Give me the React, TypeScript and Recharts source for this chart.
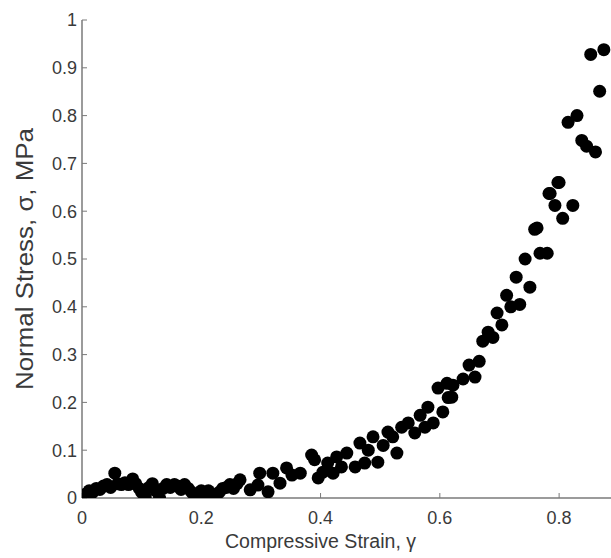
import React from 'react';
import { ScatterChart, Scatter, XAxis, YAxis } from 'recharts';

const strain: number[] = [
  0.0, 0.006, 0.012, 0.018, 0.024, 0.03, 0.036, 0.042, 0.048, 0.055, 0.06, 0.066, 0.072, 0.078, 0.085, 0.09, 0.096, 0.1, 0.106, 0.112,
  0.118, 0.124, 0.13, 0.136, 0.142, 0.148, 0.155, 0.16, 0.166, 0.172, 0.178, 0.184, 0.19, 0.196, 0.2, 0.206, 0.212, 0.218, 0.224, 0.23,
  0.236, 0.242, 0.248, 0.254, 0.26, 0.265, 0.282, 0.295, 0.298, 0.312, 0.32, 0.332, 0.343, 0.352, 0.366, 0.385, 0.39, 0.396, 0.404, 0.412,
  0.421, 0.427, 0.435, 0.444, 0.458, 0.466, 0.474, 0.48, 0.488, 0.496, 0.505, 0.513, 0.521, 0.528, 0.536, 0.547, 0.558, 0.567, 0.575, 0.58,
  0.589, 0.597, 0.605, 0.612, 0.614, 0.62, 0.622, 0.639, 0.649, 0.659, 0.666, 0.672, 0.681, 0.689, 0.696, 0.704, 0.712, 0.719, 0.728, 0.734,
  0.743, 0.751, 0.759, 0.763, 0.768, 0.78, 0.783, 0.785, 0.793, 0.798, 0.8, 0.806, 0.815, 0.823, 0.83, 0.838, 0.846, 0.853, 0.861, 0.868,
  0.875,
];

const stress: number[] = [
  0.0, 0.008, 0.015, 0.012, 0.02, 0.018, 0.025, 0.028, 0.022, 0.052, 0.03, 0.028, 0.032, 0.028, 0.04, 0.03, 0.02, 0.012, 0.002, 0.022,
  0.03, 0.015, 0.0, 0.02, 0.028, 0.022, 0.028, 0.025, 0.018, 0.028, 0.02, 0.012, 0.0, 0.01, 0.015, 0.012, 0.015, 0.008, 0.0, 0.012,
  0.02, 0.022, 0.028, 0.02, 0.03, 0.038, 0.017, 0.027, 0.052, 0.013, 0.052, 0.031, 0.063, 0.048, 0.052, 0.09, 0.08, 0.042, 0.054, 0.073,
  0.052, 0.086, 0.065, 0.094, 0.065, 0.115, 0.073, 0.1, 0.128, 0.075, 0.11, 0.138, 0.128, 0.094, 0.148, 0.157, 0.136, 0.173, 0.148, 0.19,
  0.157, 0.23, 0.18, 0.24, 0.21, 0.211, 0.236, 0.249, 0.278, 0.253, 0.286, 0.328, 0.347, 0.336, 0.387, 0.362, 0.424, 0.4, 0.462, 0.405,
  0.5, 0.441, 0.562, 0.565, 0.512, 0.512, 0.637, 0.637, 0.612, 0.66, 0.66, 0.585, 0.786, 0.612, 0.8, 0.748, 0.736, 0.928, 0.724, 0.851,
  0.938,
];

const xTicks: number[] = [0, 0.2, 0.4, 0.6, 0.8];
const yTicks: number[] = [0, 0.1, 0.2, 0.3, 0.4, 0.5, 0.6, 0.7, 0.8, 0.9, 1];

const data = strain.map((x, i) => ({ x, y: stress[i] }));

const FONT = '"Liberation Sans", Arial, Helvetica, sans-serif';
const AXIS = '#7a7a7a';
const TEXT = '#3a3a3a';

const fmt = (v: number) => (v === 0 ? '0' : v === 1 ? '1' : String(v));

const Dot = (props: any) => <circle cx={props.cx} cy={props.cy} r={6.5} fill="#000" />;

const YLabel = (props: any) => {
  const vb = props.viewBox || {};
  const cx = vb.x + 25;
  const cy = vb.y + vb.height / 2;
  return (
    <text
      x={cx}
      y={cy}
      transform={`rotate(-90, ${cx}, ${cy})`}
      textAnchor="middle"
      dominantBaseline="central"
      fontFamily={FONT}
      fontSize={23}
      fill={TEXT}
      textLength={262}
      lengthAdjust="spacingAndGlyphs"
    >
      Normal Stress, σ, MPa
    </text>
  );
};

const XLabel = (props: any) => {
  const vb = props.viewBox || {};
  const cx = vb.x + vb.width / 2 - 26;
  return (
    <text
      x={cx}
      y={vb.y + 50}
      textAnchor="middle"
      fontFamily={FONT}
      fontSize={20}
      fill={TEXT}
      textLength={191}
      lengthAdjust="spacingAndGlyphs"
    >
      Compressive Strain, γ
    </text>
  );
};

export default function App() {
  return (
    <div style={{ position: 'absolute', left: 0, top: 0, width: 611, height: 558, background: '#fff', overflow: 'hidden' }}>
      <ScatterChart width={611} height={558} margin={{ top: 20, right: 0, bottom: 0, left: 0 }}>
        <XAxis
          xAxisId="top"
          orientation="top"
          type="number"
          dataKey="x"
          domain={[0, 0.887]}
          ticks={xTicks}
          tickFormatter={() => ''}
          height={0}
          tickSize={-5}
          stroke={AXIS}
          axisLine={{ stroke: AXIS, strokeWidth: 1.5 }}
          tickLine={{ stroke: AXIS }}
          allowDataOverflow
        />
        <XAxis
          xAxisId="bottom"
          type="number"
          dataKey="x"
          domain={[0, 0.887]}
          ticks={xTicks}
          tickFormatter={fmt}
          height={60}
          tickSize={-5}
          tickMargin={18}
          stroke={AXIS}
          axisLine={{ stroke: AXIS, strokeWidth: 1.5 }}
          tickLine={{ stroke: AXIS }}
          tick={{ fill: TEXT, fontSize: 18, fontFamily: FONT }}
          label={<XLabel />}
          allowDataOverflow
        />
        <YAxis
          type="number"
          dataKey="y"
          domain={[0, 1]}
          ticks={yTicks}
          tickFormatter={fmt}
          width={82}
          tickSize={-5}
          tickMargin={10}
          stroke={AXIS}
          axisLine={{ stroke: AXIS, strokeWidth: 1.5 }}
          tickLine={{ stroke: AXIS }}
          tick={{ fill: TEXT, fontSize: 18, fontFamily: FONT }}
          label={<YLabel />}
          allowDataOverflow
        />
        <Scatter data={data} xAxisId="bottom" fill="#000" shape={<Dot />} isAnimationActive={false} />
      </ScatterChart>
    </div>
  );
}
